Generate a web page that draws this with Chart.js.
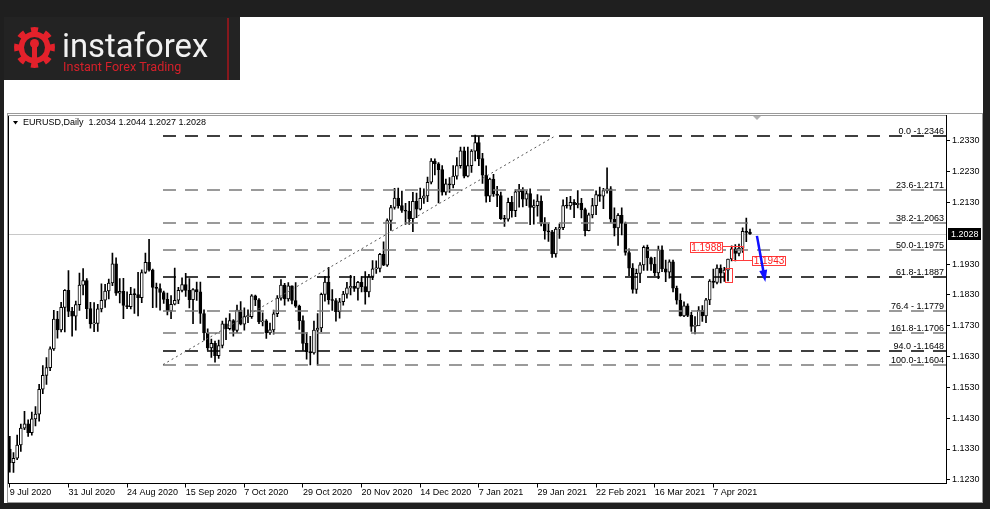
<!DOCTYPE html>
<html>
<head>
<meta charset="utf-8">
<script src="https://cdn.jsdelivr.net/npm/chart.js@4"></script>
<style>
  html, body { margin: 0; padding: 0; background: #1f1f1f; }
  canvas { display: block; }
</style>
</head>
<body>
<canvas id="chart" width="990" height="509"></canvas>
<script>
// EURUSD daily bars, 9 Jul 2020 .. 21 Apr 2021
const opens = [1.1330, 1.1286, 1.1300, 1.1343, 1.1398, 1.1412, 1.1383, 1.1428, 1.1443, 1.1524, 1.1569, 1.1594, 1.1655, 1.1752, 1.1717, 1.1790, 1.1845, 1.1777, 1.1761, 1.1799,
  1.1862, 1.1877, 1.1786, 1.1736, 1.1738, 1.1785, 1.1813, 1.1843, 1.1869, 1.1931, 1.1836, 1.1842, 1.1796, 1.1792, 1.1832, 1.1831, 1.1821, 1.1903, 1.1936, 1.1911,
  1.1855, 1.1851, 1.1838, 1.1816, 1.1778, 1.1800, 1.1813, 1.1845, 1.1864, 1.1845, 1.1815, 1.1848, 1.1840, 1.1770, 1.1707, 1.1658, 1.1673, 1.1633, 1.1666, 1.1736,
  1.1721, 1.1747, 1.1715, 1.1781, 1.1735, 1.1760, 1.1760, 1.1827, 1.1814, 1.1743, 1.1746, 1.1707, 1.1717, 1.1769, 1.1820, 1.1862, 1.1817, 1.1860, 1.1812, 1.1794,
  1.1747, 1.1673, 1.1646, 1.1642, 1.1716, 1.1723, 1.1832, 1.1872, 1.1815, 1.1812, 1.1776, 1.1808, 1.1833, 1.1853, 1.1858, 1.1851, 1.1871, 1.1857, 1.1840, 1.1890,
  1.1915, 1.1916, 1.1962, 1.1927, 1.2072, 1.2114, 1.2145, 1.2120, 1.2105, 1.2102, 1.2078, 1.2134, 1.2109, 1.2144, 1.2152, 1.2196, 1.2265, 1.2256, 1.2237, 1.2164,
  1.2191, 1.2187, 1.2216, 1.2250, 1.2298, 1.2216, 1.2250, 1.2297, 1.2325, 1.2273, 1.2219, 1.2151, 1.2206, 1.2158, 1.2153, 1.2078, 1.2076, 1.2131, 1.2104, 1.2165,
  1.2172, 1.2141, 1.2159, 1.2114, 1.2120, 1.2135, 1.2062, 1.2038, 1.2035, 1.1963, 1.2044, 1.2049, 1.2120, 1.2119, 1.2131, 1.2123, 1.2128, 1.2107, 1.2039, 1.2090,
  1.2120, 1.2156, 1.2151, 1.2169, 1.2175, 1.2076, 1.2048, 1.2089, 1.2062, 1.1968, 1.1917, 1.1848, 1.1900, 1.1928, 1.1985, 1.1951, 1.1930, 1.1902, 1.1977, 1.1915,
  1.1904, 1.1938, 1.1852, 1.1813, 1.1762, 1.1795, 1.1764, 1.1728, 1.1730, 1.1780, 1.1762, 1.1814, 1.1875, 1.1871, 1.1917, 1.1901, 1.1911, 1.1947, 1.1980, 1.1965,
  1.1982, 1.2037, 1.2034];
const highs = [1.1371, 1.1318, 1.1375, 1.1411, 1.1452, 1.1425, 1.1450, 1.1468, 1.1540, 1.1601, 1.1627, 1.1662, 1.1780, 1.1777, 1.1806, 1.1848, 1.1909, 1.1790, 1.1810, 1.1901,
  1.1916, 1.1883, 1.1806, 1.1805, 1.1800, 1.1866, 1.1865, 1.1882, 1.1966, 1.1951, 1.1883, 1.1884, 1.1840, 1.1855, 1.1850, 1.1904, 1.1912, 1.1966, 1.2011, 1.1914,
  1.1869, 1.1866, 1.1843, 1.1836, 1.1828, 1.1917, 1.1855, 1.1886, 1.1900, 1.1883, 1.1851, 1.1872, 1.1872, 1.1782, 1.1720, 1.1687, 1.1680, 1.1684, 1.1745, 1.1755,
  1.1770, 1.1750, 1.1797, 1.1809, 1.1788, 1.1782, 1.1831, 1.1830, 1.1818, 1.1772, 1.1750, 1.1739, 1.1781, 1.1828, 1.1880, 1.1868, 1.1870, 1.1860, 1.1870, 1.1797,
  1.1762, 1.1708, 1.1696, 1.1745, 1.1770, 1.1836, 1.1891, 1.1920, 1.1848, 1.1818, 1.1819, 1.1842, 1.1871, 1.1894, 1.1891, 1.1874, 1.1890, 1.1906, 1.1897, 1.1942,
  1.1941, 1.1965, 1.2003, 1.2077, 1.2121, 1.2176, 1.2177, 1.2167, 1.2128, 1.2134, 1.2163, 1.2161, 1.2177, 1.2175, 1.2213, 1.2273, 1.2272, 1.2260, 1.2250, 1.2206,
  1.2211, 1.2250, 1.2276, 1.2310, 1.2310, 1.2310, 1.2302, 1.2349, 1.2344, 1.2290, 1.2249, 1.2210, 1.2222, 1.2183, 1.2164, 1.2089, 1.2145, 1.2150, 1.2172, 1.2189,
  1.2179, 1.2168, 1.2175, 1.2139, 1.2156, 1.2152, 1.2081, 1.2061, 1.2040, 1.2050, 1.2061, 1.2139, 1.2147, 1.2150, 1.2140, 1.2169, 1.2144, 1.2112, 1.2096, 1.2144,
  1.2168, 1.2180, 1.2176, 1.2243, 1.2182, 1.2113, 1.2094, 1.2113, 1.2067, 1.1980, 1.1932, 1.1914, 1.1935, 1.1990, 1.1992, 1.1953, 1.1952, 1.1989, 1.1990, 1.1943,
  1.1944, 1.1943, 1.1859, 1.1834, 1.1808, 1.1801, 1.1774, 1.1760, 1.1792, 1.1796, 1.1819, 1.1880, 1.1914, 1.1928, 1.1928, 1.1920, 1.1947, 1.1990, 1.1994, 1.1995,
  1.2048, 1.2080, 1.2044];
const lows = [1.1255, 1.1254, 1.1295, 1.1322, 1.1393, 1.1371, 1.1375, 1.1405, 1.1420, 1.1510, 1.1540, 1.1584, 1.1650, 1.1690, 1.1710, 1.1710, 1.1760, 1.1696, 1.1716, 1.1780,
  1.1830, 1.1753, 1.1722, 1.1711, 1.1712, 1.1775, 1.1790, 1.1817, 1.1860, 1.1829, 1.1804, 1.1753, 1.1786, 1.1785, 1.1770, 1.1762, 1.1805, 1.1900, 1.1907, 1.1789,
  1.1790, 1.1781, 1.1803, 1.1765, 1.1753, 1.1798, 1.1802, 1.1840, 1.1825, 1.1788, 1.1737, 1.1812, 1.1738, 1.1683, 1.1651, 1.1627, 1.1612, 1.1624, 1.1658, 1.1685,
  1.1717, 1.1696, 1.1708, 1.1733, 1.1716, 1.1740, 1.1754, 1.1795, 1.1737, 1.1730, 1.1689, 1.1702, 1.1703, 1.1760, 1.1813, 1.1797, 1.1810, 1.1801, 1.1790, 1.1718,
  1.1650, 1.1622, 1.1603, 1.1638, 1.1602, 1.1711, 1.1810, 1.1800, 1.1780, 1.1745, 1.1755, 1.1797, 1.1820, 1.1830, 1.1842, 1.1813, 1.1840, 1.1800, 1.1824, 1.1880,
  1.1900, 1.1905, 1.1925, 1.1923, 1.2040, 1.2109, 1.2112, 1.2098, 1.2059, 1.2059, 1.2036, 1.2081, 1.2106, 1.2127, 1.2133, 1.2191, 1.2220, 1.2129, 1.2154, 1.2155,
  1.2163, 1.2178, 1.2206, 1.2242, 1.2210, 1.2213, 1.2228, 1.2265, 1.2250, 1.2192, 1.2131, 1.2133, 1.2150, 1.2117, 1.2075, 1.2053, 1.2070, 1.2083, 1.2084, 1.2115,
  1.2116, 1.2120, 1.2058, 1.2060, 1.2086, 1.2054, 1.2011, 1.2004, 1.1952, 1.1953, 1.2014, 1.2042, 1.2112, 1.2108, 1.2081, 1.2113, 1.2080, 1.2022, 1.2038, 1.2080,
  1.2091, 1.2134, 1.2110, 1.2161, 1.2066, 1.2022, 1.1991, 1.2025, 1.1959, 1.1893, 1.1836, 1.1835, 1.1870, 1.1910, 1.1910, 1.1910, 1.1893, 1.1883, 1.1906, 1.1873,
  1.1885, 1.1840, 1.1800, 1.1761, 1.1760, 1.1760, 1.1712, 1.1704, 1.1731, 1.1744, 1.1740, 1.1799, 1.1853, 1.1866, 1.1869, 1.1874, 1.1876, 1.1941, 1.1941, 1.1957,
  1.1968, 1.2003, 1.2027];
const closes = [1.1286, 1.1300, 1.1343, 1.1398, 1.1412, 1.1383, 1.1428, 1.1443, 1.1524, 1.1569, 1.1594, 1.1655, 1.1752, 1.1717, 1.1790, 1.1845, 1.1777, 1.1761, 1.1799, 1.1862,
  1.1877, 1.1786, 1.1736, 1.1738, 1.1785, 1.1813, 1.1843, 1.1869, 1.1931, 1.1836, 1.1842, 1.1796, 1.1792, 1.1832, 1.1831, 1.1821, 1.1903, 1.1936, 1.1911, 1.1855,
  1.1851, 1.1838, 1.1816, 1.1778, 1.1800, 1.1813, 1.1845, 1.1864, 1.1845, 1.1815, 1.1848, 1.1840, 1.1770, 1.1707, 1.1658, 1.1673, 1.1633, 1.1666, 1.1736, 1.1721,
  1.1747, 1.1715, 1.1781, 1.1735, 1.1760, 1.1760, 1.1827, 1.1814, 1.1743, 1.1746, 1.1707, 1.1717, 1.1769, 1.1820, 1.1862, 1.1817, 1.1860, 1.1812, 1.1794, 1.1747,
  1.1673, 1.1646, 1.1642, 1.1716, 1.1723, 1.1832, 1.1872, 1.1815, 1.1812, 1.1776, 1.1808, 1.1833, 1.1853, 1.1858, 1.1851, 1.1871, 1.1857, 1.1840, 1.1890, 1.1915,
  1.1916, 1.1962, 1.1927, 1.2072, 1.2114, 1.2145, 1.2120, 1.2105, 1.2102, 1.2078, 1.2134, 1.2109, 1.2144, 1.2152, 1.2196, 1.2265, 1.2256, 1.2237, 1.2164, 1.2191,
  1.2187, 1.2216, 1.2250, 1.2298, 1.2216, 1.2250, 1.2297, 1.2325, 1.2273, 1.2219, 1.2151, 1.2206, 1.2158, 1.2153, 1.2078, 1.2076, 1.2131, 1.2104, 1.2165, 1.2172,
  1.2141, 1.2159, 1.2114, 1.2120, 1.2135, 1.2062, 1.2038, 1.2035, 1.1963, 1.2044, 1.2049, 1.2120, 1.2119, 1.2131, 1.2123, 1.2128, 1.2107, 1.2039, 1.2090, 1.2120,
  1.2156, 1.2151, 1.2169, 1.2175, 1.2076, 1.2048, 1.2089, 1.2062, 1.1968, 1.1917, 1.1848, 1.1900, 1.1928, 1.1985, 1.1951, 1.1930, 1.1902, 1.1977, 1.1915, 1.1904,
  1.1938, 1.1852, 1.1813, 1.1762, 1.1795, 1.1764, 1.1728, 1.1730, 1.1780, 1.1762, 1.1814, 1.1875, 1.1871, 1.1917, 1.1901, 1.1911, 1.1947, 1.1980, 1.1965, 1.1982,
  1.2037, 1.2033, 1.2028];

// date labels under the axis, one every 16 bars
const dateTicks = ['9 Jul 2020', '31 Jul 2020', '24 Aug 2020', '15 Sep 2020', '7 Oct 2020', '29 Oct 2020', '20 Nov 2020',
  '14 Dec 2020', '7 Jan 2021', '29 Jan 2021', '22 Feb 2021', '16 Mar 2021', '7 Apr 2021'];
const dateTickStep = 16;
const slotCount = 256; // bars + empty shift space on the right

// price axis
const priceTicks = [1.1230, 1.1330, 1.1430, 1.1530, 1.1630, 1.1730, 1.1830, 1.1930, 1.2130, 1.2230, 1.2330];
const lastPrice = 1.2028;
const headerText = 'EURUSD,Daily  1.2034 1.2044 1.2027 1.2028';

// fibo levels
const fibLevels = [1.2346, 1.2171, 1.2063, 1.1975, 1.1887, 1.1779, 1.1706, 1.1648, 1.1604];
const fibLabels = ['0.0 -1.2346', '23.6-1.2171', '38.2-1.2063', '50.0-1.1975', '61.8-1.1887', '76.4 - 1.1779',
  '161.8-1.1706', '94.0 -1.1648', '100.0-1.1604'];
const fibColors = ['#000000', '#7a7a7a', '#7a7a7a', '#7a7a7a', '#000000', '#7a7a7a', '#7a7a7a', '#000000', '#7a7a7a'];
const fibStart = 41.8;   // bar index of the fibo anchor
const fibEnd = 148.8;    // bar index of the second anchor

// drawn objects, in (bar index, price)
const redBoxes = [
  { text: '1.1988', i0: 185.6, i1: 194.4, p0: 1.2003, p1: 1.1971 },
  { text: '1.1943', i0: 202.6, i1: 211.6, p0: 1.1957, p1: 1.1926 }
];
const redRects = [
  { i0: 197.1, i1: 200.1, p0: 1.1988, p1: 1.1943 },
  { i0: 195.2, i1: 197.1, p0: 1.1918, p1: 1.1872 }
];
const redLines = [
  { i0: 194.4, i1: 197.1, p: 1.1988 },
  { i0: 200.1, i1: 202.6, p: 1.1943 }
];
const blueArrow = { i0: 203.9, p0: 1.2022, i1: 206.2, p1: 1.1872 };

Chart.defaults.font.family = '"Liberation Sans", Arial, sans-serif';
Chart.defaults.font.size = 9;
Chart.defaults.color = '#000';

const slots = Array.from({ length: slotCount }, (_, i) => i);
const wickData = highs.map((h, i) => [lows[i], h]);
const bodyData = opens.map((o, i) => [o, closes[i]]);
const bodyColors = opens.map((o, i) => closes[i] >= o ? '#ffffff' : '#000000');

function drawGear(ctx, cx, cy) {
  ctx.save();
  ctx.fillStyle = '#e3212b';
  ctx.beginPath();
  const n = 16;
  for (let k = 0; k < n; k++) {
    const a0 = (k / n) * Math.PI * 2 - Math.PI / 2 - Math.PI / n;
    const r = k % 2 === 0 ? 20.5 : 16;
    ctx.arc(cx, cy, r, a0, a0 + Math.PI * 2 / n);
  }
  ctx.closePath();
  ctx.fill();
  ctx.fillStyle = '#232323';
  ctx.beginPath(); ctx.arc(cx, cy, 10.5, 0, Math.PI * 2); ctx.fill();
  ctx.fillStyle = '#e3212b';
  ctx.beginPath(); ctx.arc(cx, cy - 4, 4.5, 0, Math.PI * 2); ctx.fill();
  ctx.fillRect(cx - 2.5, cy - 2, 5, 14);
  ctx.restore();
}

const mtDecor = {
  id: 'mtDecor',
  beforeDraw(chart) {
    const ctx = chart.ctx;
    ctx.save();
    ctx.fillStyle = '#1f1f1f';
    ctx.fillRect(0, 0, 990, 509);
    ctx.fillStyle = '#ffffff';
    ctx.fillRect(4, 80, 979, 423);
    ctx.fillRect(240, 17, 743, 63);
    // logo box
    ctx.fillStyle = '#232323';
    ctx.fillRect(4, 17, 236, 63);
    ctx.strokeStyle = '#a8161c';
    ctx.lineWidth = 1.5;
    ctx.beginPath(); ctx.moveTo(228, 18); ctx.lineTo(228, 80); ctx.stroke();
    drawGear(ctx, 34.5, 47.5);
    ctx.fillStyle = '#f2f2f2';
    ctx.font = '33px Roboto';
    let w = ctx.measureText('instaforex').width;
    ctx.font = (33 * 146 / w).toFixed(1) + 'px Roboto';
    ctx.textBaseline = 'alphabetic';
    ctx.fillText('instaforex', 62, 57);
    ctx.fillStyle = '#d4202a';
    ctx.font = '12px Roboto';
    w = ctx.measureText('Instant Forex Trading').width;
    ctx.font = (12 * 118 / w).toFixed(1) + 'px Roboto';
    ctx.fillText('Instant Forex Trading', 63, 71);
    // chart window frame
    ctx.strokeStyle = '#9a9a9a';
    ctx.lineWidth = 1;
    ctx.strokeRect(7.5, 113.5, 975, 389);
    ctx.restore();
  },
  beforeDatasetsDraw(chart) {
    const { ctx, chartArea, scales } = chart;
    const y = Math.round(scales.y.getPixelForValue(lastPrice)) + 0.5;
    ctx.save();
    ctx.strokeStyle = '#c8c8c8';
    ctx.lineWidth = 1;
    ctx.beginPath(); ctx.moveTo(chartArea.left, y); ctx.lineTo(chartArea.right, y); ctx.stroke();
    ctx.restore();
  },
  afterDatasetsDraw(chart) {
    const { ctx, chartArea, scales } = chart;
    const X = v => scales.x.getPixelForValue(v);
    const Y = v => scales.y.getPixelForValue(v);
    ctx.save();
    // fibo levels
    ctx.lineWidth = 1.5;
    ctx.setLineDash([13, 9]);
    fibLevels.forEach((lv, k) => {
      const y = Math.round(Y(lv));
      ctx.strokeStyle = fibColors[k];
      ctx.beginPath(); ctx.moveTo(X(fibStart), y); ctx.lineTo(chartArea.right, y); ctx.stroke();
    });
    ctx.setLineDash([]);
    ctx.fillStyle = '#000';
    ctx.font = '9px "Liberation Sans", Arial, sans-serif';
    ctx.textAlign = 'right';
    ctx.textBaseline = 'alphabetic';
    fibLevels.forEach((lv, k) => {
      ctx.fillText(fibLabels[k], chartArea.right - 2, Math.round(Y(lv)) - 2);
    });
    // fibo base line
    ctx.strokeStyle = '#555';
    ctx.lineWidth = 1;
    ctx.setLineDash([2, 3]);
    ctx.beginPath();
    ctx.moveTo(X(fibStart), Y(fibLevels[fibLevels.length - 1]));
    ctx.lineTo(X(fibEnd), Y(fibLevels[0]));
    ctx.stroke();
    ctx.setLineDash([]);
    // red objects
    ctx.strokeStyle = '#ff3b3b';
    ctx.lineWidth = 1;
    redLines.forEach(l => {
      const y = Math.round(Y(l.p)) + 0.5;
      ctx.beginPath(); ctx.moveTo(X(l.i0), y); ctx.lineTo(X(l.i1), y); ctx.stroke();
    });
    redRects.forEach(r => {
      const x0 = Math.round(X(r.i0)) + 0.5, x1 = Math.round(X(r.i1)) + 0.5;
      const y0 = Math.round(Y(r.p0)) + 0.5, y1 = Math.round(Y(r.p1)) + 0.5;
      ctx.strokeRect(x0, y0, x1 - x0, y1 - y0);
    });
    ctx.font = '10px "Liberation Sans", Arial, sans-serif';
    ctx.textAlign = 'center';
    ctx.textBaseline = 'middle';
    redBoxes.forEach(b => {
      const x0 = Math.round(X(b.i0)) + 0.5, x1 = Math.round(X(b.i1)) + 0.5;
      const y0 = Math.round(Y(b.p0)) + 0.5, y1 = Math.round(Y(b.p1)) + 0.5;
      ctx.fillStyle = '#ffffff';
      ctx.fillRect(x0, y0, x1 - x0, y1 - y0);
      ctx.strokeRect(x0, y0, x1 - x0, y1 - y0);
      ctx.fillStyle = '#ff2020';
      ctx.fillText(b.text, (x0 + x1) / 2, (y0 + y1) / 2 + 0.5);
    });
    // blue arrow
    const ax0 = X(blueArrow.i0), ay0 = Y(blueArrow.p0), ax1 = X(blueArrow.i1), ay1 = Y(blueArrow.p1);
    const ang = Math.atan2(ay1 - ay0, ax1 - ax0);
    ctx.strokeStyle = '#1010ff';
    ctx.fillStyle = '#1010ff';
    ctx.lineWidth = 2.5;
    ctx.beginPath(); ctx.moveTo(ax0, ay0); ctx.lineTo(ax1 - 8 * Math.cos(ang), ay1 - 8 * Math.sin(ang)); ctx.stroke();
    ctx.beginPath();
    ctx.moveTo(ax1, ay1);
    ctx.lineTo(ax1 - 12 * Math.cos(ang) + 4 * Math.sin(ang), ay1 - 12 * Math.sin(ang) - 4 * Math.cos(ang));
    ctx.lineTo(ax1 - 12 * Math.cos(ang) - 4 * Math.sin(ang), ay1 - 12 * Math.sin(ang) + 4 * Math.cos(ang));
    ctx.closePath();
    ctx.fill();
    ctx.restore();
  },
  afterDraw(chart) {
    const { ctx, chartArea, scales } = chart;
    ctx.save();
    // chart area left/top border
    ctx.strokeStyle = '#000';
    ctx.lineWidth = 1;
    ctx.beginPath();
    ctx.moveTo(chartArea.left + 0.5, chartArea.bottom);
    ctx.lineTo(chartArea.left + 0.5, chartArea.top + 0.5);
    ctx.stroke();
    ctx.strokeStyle = '#9a9a9a';
    ctx.beginPath();
    ctx.moveTo(chartArea.left, chartArea.top + 0.5);
    ctx.lineTo(chartArea.right, chartArea.top + 0.5);
    ctx.stroke();
    // shift marker
    ctx.fillStyle = '#b0b0b0';
    ctx.beginPath(); ctx.moveTo(753, 116); ctx.lineTo(761, 116); ctx.lineTo(757, 120); ctx.closePath(); ctx.fill();
    // header
    ctx.fillStyle = '#000';
    ctx.beginPath(); ctx.moveTo(13, 121); ctx.lineTo(18, 121); ctx.lineTo(15.5, 124.5); ctx.closePath(); ctx.fill();
    ctx.font = '9px "Liberation Sans", Arial, sans-serif';
    ctx.textAlign = 'left';
    ctx.textBaseline = 'middle';
    ctx.fillText(headerText, 23, 123);
    // last price label
    const y = Math.round(scales.y.getPixelForValue(lastPrice));
    ctx.fillStyle = '#000';
    ctx.fillRect(948, y - 6, 33, 12);
    ctx.fillStyle = '#fff';
    ctx.fillText(lastPrice.toFixed(4), 951, y + 0.5);
    ctx.restore();
  }
};

new Chart(document.getElementById('chart'), {
  type: 'bar',
  data: {
    labels: slots,
    datasets: [
      {
        label: 'wicks',
        data: wickData,
        backgroundColor: '#000000',
        barThickness: 1,
        grouped: false,
        order: 2
      },
      {
        label: 'bodies',
        data: bodyData,
        backgroundColor: bodyColors,
        borderColor: '#000000',
        borderWidth: 1,
        borderSkipped: false,
        barThickness: 3,
        minBarLength: 1,
        grouped: false,
        order: 1
      }
    ]
  },
  options: {
    responsive: false,
    devicePixelRatio: 1,
    animation: false,
    layout: { padding: { left: 8, top: 115, right: 0, bottom: 0 } },
    plugins: { legend: { display: false }, tooltip: { enabled: false } },
    scales: {
      x: {
        type: 'category',
        offset: true,
        afterBuildTicks: s => { s.ticks = dateTicks.map((_, k) => ({ value: k * dateTickStep })); },
        afterFit: s => { s.height = 25.5; },
        grid: { display: true, drawOnChartArea: false, drawTicks: true, tickLength: 4, color: '#000', offset: false },
        border: { display: true, color: '#000' },
        ticks: {
          autoSkip: false,
          maxRotation: 0,
          align: 'start',
          padding: 0,
          color: '#000',
          callback: v => dateTicks[v / dateTickStep]
        }
      },
      y: {
        type: 'linear',
        position: 'right',
        min: 1.1218,
        max: 1.24144,
        afterBuildTicks: s => { s.ticks = priceTicks.map(v => ({ value: v })); },
        afterFit: s => { s.width = 44; },
        grid: { display: true, drawOnChartArea: false, drawTicks: true, tickLength: 4, color: '#000' },
        border: { display: true, color: '#000' },
        ticks: { padding: 2, color: '#000', callback: v => v.toFixed(4) }
      }
    }
  },
  plugins: [mtDecor]
});
</script>
</body>
</html>
